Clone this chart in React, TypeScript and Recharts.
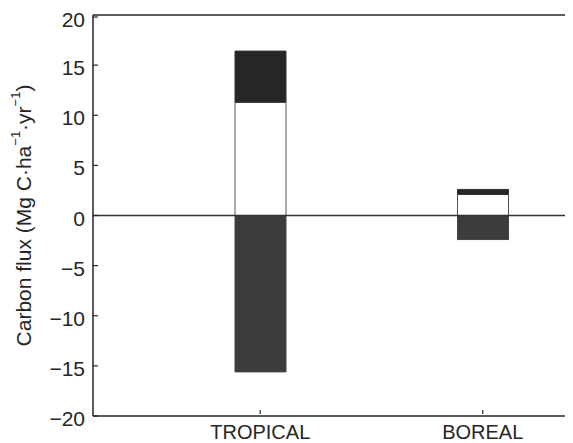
import { BarChart, Bar, XAxis, YAxis, ReferenceLine } from "recharts";

const biomes = ["TROPICAL", "BOREAL"];
const uptake = [11.3, 2.1];
const extraUptake = [5.1, 0.5];
const release = [-15.6, -2.4];
const yTicks = [-20, -15, -10, -5, 0, 5, 10, 15, 20];

const data = biomes.map((name, i) => ({
  name,
  uptake: uptake[i],
  extraUptake: extraUptake[i],
  release: release[i],
}));

const FONT = "'Liberation Sans', Arial, sans-serif";
const INK = "#262626";

const fmt = (v: number) => (v < 0 ? "\u2212" + Math.abs(v) : String(v));

const YTick = (props: any) => {
  const { x, y, payload } = props;
  return (
    <g>
      <line x1={x + 8} y1={y} x2={x + 13} y2={y} stroke={INK} strokeWidth={1.2} />
      <text x={x} y={y} dy={10} textAnchor="end" fontSize={21} fontFamily={FONT} fill={INK}>
        {fmt(payload.value)}
      </text>
    </g>
  );
};

const XTick = (props: any) => {
  const { x, y, payload } = props;
  return (
    <g>
      <line x1={x} y1={y - 8} x2={x} y2={y - 4} stroke={INK} strokeWidth={1.2} />
      <text x={x} y={y} dy={21} textAnchor="middle" fontSize={20} fontFamily={FONT} fill={INK}>
        {payload.value}
      </text>
    </g>
  );
};

const YLabel = (props: any) => {
  const { viewBox } = props;
  const cx = viewBox.x + 15;
  const cy = viewBox.y + viewBox.height / 2;
  return (
    <text
      x={cx}
      y={cy}
      transform={`rotate(-90, ${cx}, ${cy})`}
      textAnchor="middle"
      dominantBaseline="central"
      fontSize={21}
      fontFamily={FONT}
      fill={INK}
    >
      Carbon flux (Mg C·ha
      <tspan dy={-8} fontSize={13}>−1</tspan>
      <tspan dy={8}>·yr</tspan>
      <tspan dy={-8} fontSize={13}>−1</tspan>
      <tspan dy={8}>)</tspan>
    </text>
  );
};

export default function App() {
  return (
    <div style={{ width: 565, height: 435, overflow: "hidden" }}>
      <BarChart
        width={642}
        height={435}
        data={data}
        stackOffset="sign"
        margin={{ top: 7, right: 0, bottom: 0, left: 0 }}
      >
        <XAxis
          dataKey="name"
          height={27}
          padding={{ left: 56, right: 56 }}
          tickLine={false}
          tickSize={0}
          axisLine={{ stroke: INK, strokeWidth: 1.5 }}
          tick={<XTick />}
          interval={0}
        />
        <YAxis
          width={85}
          domain={[-20, 20]}
          ticks={yTicks}
          tickLine={false}
          tickSize={0}
          tickMargin={8}
          axisLine={{ stroke: INK, strokeWidth: 1.5 }}
          tick={<YTick />}
          label={{ content: <YLabel /> }}
        />
        <ReferenceLine y={20} stroke={INK} strokeWidth={1.5} />
        <ReferenceLine y={0} stroke="#333" strokeWidth={1.5} />
        <Bar dataKey="uptake" stackId="a" fill="#ffffff" stroke="#555" strokeWidth={1} barSize={51} isAnimationActive={false} />
        <Bar dataKey="extraUptake" stackId="a" fill="#262626" stroke="#333" strokeWidth={1} barSize={51} isAnimationActive={false} />
        <Bar dataKey="release" stackId="a" fill="#3c3c3c" stroke="#444" strokeWidth={1} barSize={51} isAnimationActive={false} />
      </BarChart>
    </div>
  );
}
